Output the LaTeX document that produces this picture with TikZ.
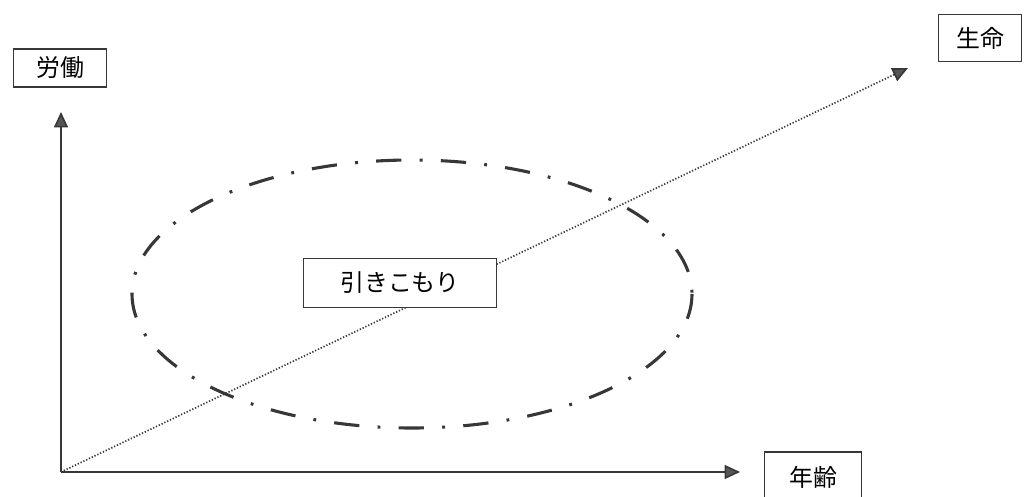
\documentclass[tikz,border=0pt]{standalone}
\usepackage{fontspec}
\newfontfamily\jpfont{Noto Sans CJK JP}
\usepackage{tikz}
\usetikzlibrary{arrows.meta,positioning}
\definecolor{inkgray}{RGB}{55,55,55}
\definecolor{tipgray}{RGB}{85,85,85}
\tikzset{
  label box/.style={rectangle,draw=inkgray,fill=white,line width=0.9pt,
                    text width=#1,align=center,minimum height=0.95cm,
                    font=\jpfont\fontsize{17}{19}\selectfont,inner sep=2pt},
  label box/.default=2.2cm,
  axis/.style={-{Triangle[length=11pt,width=10pt,fill=tipgray]},line width=1.1pt,inkgray},
  lifeline/.style={-{Triangle[length=11pt,width=10pt,fill=tipgray]},line width=1.2pt,
                   inkgray,dash pattern=on 0.9pt off 1.3pt},
}

\begin{document}
\begin{tikzpicture}[x=0.025cm,y=-0.025cm,
      ring/.style={draw=inkgray,line width=2.2pt,
                   dash pattern=on 18pt off 13pt on 2pt off 13pt},
    ]
    \useasboundingbox (0,0) rectangle (1024,497);

    \coordinate (origin) at (61,472);
    \coordinate (ytip)   at (61,112);
    \coordinate (xtip)   at (740,472);
    \coordinate (ltip)   at (908,68);

    % ellipse of withdrawal
    \draw[ring] (412,294) ellipse [x radius=280,y radius=134];

    % axes
    \draw[axis] (origin) -- (ytip);
    \draw[axis] (origin) -- (xtip);
    \draw[lifeline] (origin) -- (ltip);

    \node[label box=2.2cm] (labor)  at (60,68)   {労働};
    \node[label box=1.95cm,minimum height=1.18cm] (life) at (980,38) {生命};
    \node[label box=2.3cm,minimum height=1.25cm] (age)  at (813,477) {年齢};
    \node[label box=4.7cm,minimum height=1.22cm] (hiki) at (400,283) {引きこもり};

  \end{tikzpicture}
\end{document}
